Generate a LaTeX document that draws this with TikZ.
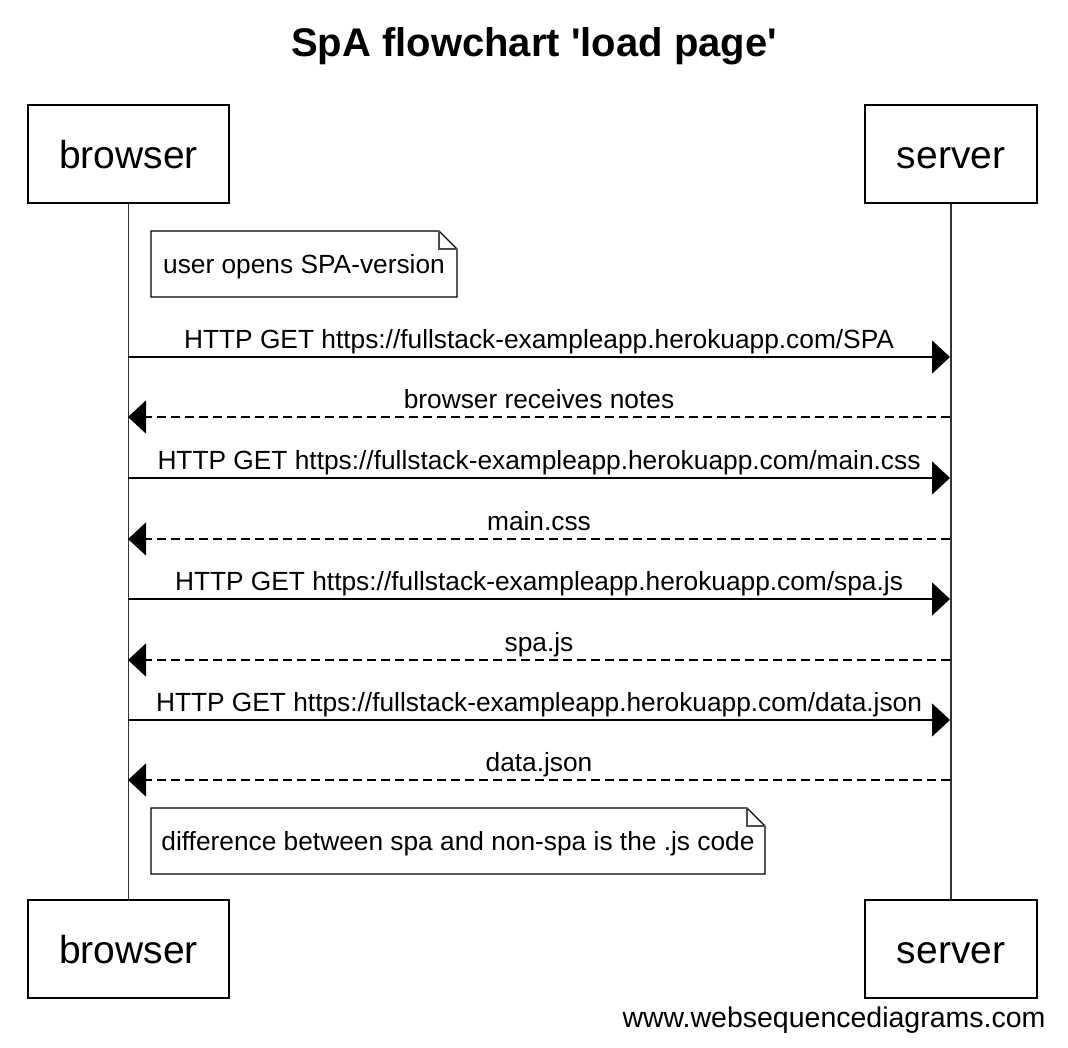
\documentclass[tikz,border=0pt]{standalone}
\usepackage{fontspec}
\setmainfont{Liberation Sans}
\usetikzlibrary{arrows.meta, calc}

\tikzset{
  actor/.style={draw=black, line width=1.6pt, fill=white, minimum width=201pt,
    minimum height=98pt, inner sep=0pt, text height=31pt, text depth=2pt,
    font=\fontsize{39}{44}\selectfont},
  lifeline/.style={draw=black!80, line width=1.8pt},
  msg/.style={line width=1.6pt, -{Triangle[length=18pt, width=33pt]}},
  reply/.style={msg, dash pattern=on 9pt off 5pt},
  lbl/.style={above, inner sep=1.5pt, text depth=6pt, font=\fontsize{26.3}{29}\selectfont},
  notetext/.style={text height=22pt, text depth=3pt, font=\fontsize{26.3}{29}\selectfont}
}

% note with folded corner: #1 top left, #2 bottom right
\newcommand{\dognote}[3]{%
  \draw[line width=1.4pt, fill=white] (#1) -- ([xshift=-18pt]#2 |- #1) -- ([yshift=-18pt]#2 |- #1)
    -- (#2) -- (#1 |- #2) -- cycle;
  \draw[line width=1.2pt, black!70] ([xshift=-18pt]#2 |- #1) -- ([xshift=-18pt, yshift=-18pt]#2 |- #1)
    -- ([yshift=-18pt]#2 |- #1);
  \node[notetext] at ($(#1)!0.5!(#2)$) {#3};
}

\begin{document}
\begin{tikzpicture}[x=1pt, y=-1pt]

    \useasboundingbox (0,0) rectangle (1068,1048);

    % Title
    \node[font=\bfseries\fontsize{40}{46}\selectfont] (title) at (534,46)
      {SpA flowchart \textquotesingle load page\textquotesingle};

    % Actors, top and bottom
    \node[actor] (browsertop) at (128.5,154) {browser};
    \node[actor, minimum width=172pt] (servertop) at (951,154) {server};
    \node[actor] (browserbot) at (128.5,949) {browser};
    \node[actor, minimum width=172pt] (serverbot) at (951,949) {server};

    % Lifelines
    \draw[lifeline] (browsertop.south) -- (browserbot.north);
    \draw[lifeline] (servertop.south) -- (serverbot.north);

    % Message anchors on both lifelines
    \foreach \n/\y in {1/357, 2/417, 3/478, 4/539, 5/599, 6/660, 7/720, 8/780} {
      \coordinate (b\n) at (128,\y);
      \coordinate (s\n) at (950,\y);
    }

    % First note
    \coordinate (n1a) at (151,231);
    \coordinate (n1b) at (457,297);
    \dognote{n1a}{n1b}{user opens SPA-version}

    % Requests and replies
    \draw[msg] (b1) -- node[lbl] {HTTP GET https://fullstack-exampleapp.herokuapp.com/SPA} (s1);
    \draw[reply] (s2) -- node[lbl] {browser receives notes} (b2);
    \draw[msg] (b3) -- node[lbl] {HTTP GET https://fullstack-exampleapp.herokuapp.com/main.css} (s3);
    \draw[reply] (s4) -- node[lbl] {main.css} (b4);
    \draw[msg] (b5) -- node[lbl] {HTTP GET https://fullstack-exampleapp.herokuapp.com/spa.js} (s5);
    \draw[reply] (s6) -- node[lbl] {spa.js} (b6);
    \draw[msg] (b7) -- node[lbl] {HTTP GET https://fullstack-exampleapp.herokuapp.com/data.json} (s7);
    \draw[reply] (s8) -- node[lbl] {data.json} (b8);

    % Second note
    \coordinate (n2a) at (151,808);
    \coordinate (n2b) at (765,874);
    \dognote{n2a}{n2b}{difference between spa and non-spa is the .js code}

    % Watermark
    \node[font=\fontsize{28.5}{32}\selectfont, anchor=east] (mark) at (1049,1020) {www.websequencediagrams.com};

\end{tikzpicture}
\end{document}
